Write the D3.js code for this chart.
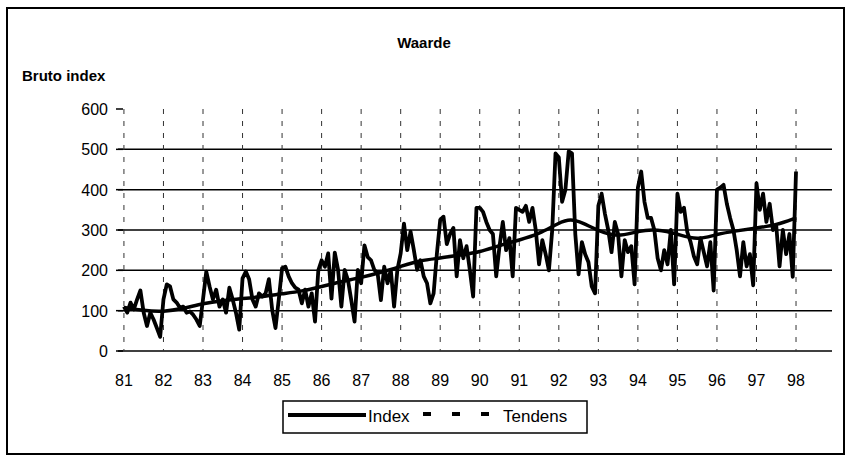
<!DOCTYPE html>
<html>
<head>
<meta charset="utf-8">
<script src="https://cdn.jsdelivr.net/npm/d3@7"></script>
<style>
  body { margin: 0; background: #fff; }
  text { font-family: "Liberation Sans", Arial, sans-serif; fill: #000; }
</style>
</head>
<body>
<svg id="chart" width="848" height="458"></svg>
<script>
// monthly index values, one array per year (Jan..Dec)
var index1981 = [110, 95, 120, 103, 128, 150, 95, 62, 95, 78, 57, 35];
var index1982 = [128, 165, 160, 128, 120, 107, 110, 95, 98, 90, 78, 62];
var index1983 = [128, 197, 160, 128, 152, 110, 128, 95, 157, 128, 95, 53];
var index1984 = [180, 197, 178, 128, 110, 143, 135, 143, 178, 102, 57, 128];
var index1985 = [205, 209, 185, 168, 157, 152, 118, 152, 110, 143, 73, 200];
var index1986 = [225, 209, 242, 130, 244, 201, 110, 201, 176, 126, 73, 201];
var index1987 = [168, 262, 233, 225, 201, 193, 126, 209, 168, 201, 110, 201];
var index1988 = [242, 316, 250, 296, 250, 201, 225, 185, 168, 118, 143, 242];
var index1989 = [325, 333, 265, 290, 305, 185, 275, 230, 260, 200, 135, 355];
var index1990 = [355, 345, 320, 300, 290, 185, 260, 320, 250, 280, 185, 355];
var index1991 = [350, 345, 360, 320, 355, 300, 215, 275, 240, 200, 300, 490];
var index1992 = [480, 370, 400, 495, 490, 290, 190, 270, 240, 220, 160, 143];
var index1993 = [360, 390, 340, 300, 245, 320, 290, 185, 275, 245, 260, 165];
var index1994 = [405, 445, 370, 330, 330, 300, 230, 200, 250, 215, 300, 165];
var index1995 = [390, 345, 355, 295, 270, 235, 215, 280, 245, 210, 270, 150];
var index1996 = [400, 405, 412, 365, 330, 300, 250, 185, 270, 210, 240, 163];
var index1997 = [416, 350, 390, 320, 365, 300, 310, 210, 300, 240, 290, 184];
var index1998 = [445];

// trend (Tendens), read at half-year points
var trendYears = [81, 81.5, 82, 82.5, 83, 83.5, 84, 84.5, 85, 85.5, 86, 86.5, 87, 87.5, 88, 88.5, 89, 89.5,
  90, 90.5, 91, 91.5, 92, 92.3, 92.6, 93, 93.5, 94, 94.5, 95, 95.5, 96, 96.5, 97, 97.5, 98];
var trendValues = [108, 100, 97, 105, 118, 125, 130, 135, 142, 148, 160, 172, 182, 195, 210, 225, 230, 238,
  245, 262, 275, 290, 318, 328, 318, 298, 282, 298, 302, 290, 274, 290, 298, 305, 312, 330];

var yearLabels = ['81', '82', '83', '84', '85', '86', '87', '88', '89', '90', '91', '92', '93', '94', '95', '96', '97', '98'];
var yTicks = [0, 100, 200, 300, 400, 500, 600];

var svg = d3.select('#chart');

// outer frame
svg.append('rect')
  .attr('x', 7).attr('y', 8)
  .attr('width', 837).attr('height', 446)
  .attr('fill', 'none').attr('stroke', '#000').attr('stroke-width', 2);

var x = d3.scaleLinear().domain([80.85, 98.91]).range([118, 832]);
var y = d3.scaleLinear().domain([0, 600]).range([351, 109]);

var indexYears = [index1981, index1982, index1983, index1984, index1985, index1986, index1987, index1988, index1989,
  index1990, index1991, index1992, index1993, index1994, index1995, index1996, index1997, index1998];
var indexData = [];
indexYears.forEach(function (arr, i) {
  arr.forEach(function (v, m) {
    indexData.push({ t: 81 + i + m / 12, v: v });
  });
});
var trendData = trendYears.map(function (t, i) { return { t: t, v: trendValues[i] }; });

// horizontal gridlines (0..500)
svg.append('g').selectAll('line')
  .data(yTicks.filter(function (d) { return d < 600; }))
  .enter().append('line')
  .attr('x1', 118).attr('x2', 832)
  .attr('y1', function (d) { return y(d); })
  .attr('y2', function (d) { return y(d); })
  .attr('stroke', '#000').attr('stroke-width', 1.5);

// vertical dashed gridlines at each year
svg.append('g').selectAll('line')
  .data(yearLabels)
  .enter().append('line')
  .attr('x1', function (d) { return x(+d); })
  .attr('x2', function (d) { return x(+d); })
  .attr('y1', y(600)).attr('y2', y(0))
  .attr('stroke', '#333').attr('stroke-width', 1)
  .attr('stroke-dasharray', '5,7');

// y tick marks and labels
var yAxis = svg.append('g');
yAxis.selectAll('line')
  .data(yTicks).enter().append('line')
  .attr('x1', 116).attr('x2', 123)
  .attr('y1', function (d) { return y(d); })
  .attr('y2', function (d) { return y(d); })
  .attr('stroke', '#000').attr('stroke-width', 1.5);
yAxis.selectAll('text')
  .data(yTicks).enter().append('text')
  .attr('x', 108)
  .attr('y', function (d) { return y(d) + 6; })
  .attr('text-anchor', 'end')
  .style('font-size', '16px')
  .text(function (d) { return d; });

// x labels
svg.append('g').selectAll('text')
  .data(yearLabels).enter().append('text')
  .attr('x', function (d) { return x(+d); })
  .attr('y', 386)
  .attr('text-anchor', 'middle')
  .style('font-size', '16px')
  .text(function (d) { return d; });

var line = d3.line()
  .x(function (d) { return x(d.t); })
  .y(function (d) { return y(d.v); });

svg.append('path')
  .datum(indexData)
  .attr('d', line)
  .attr('fill', 'none').attr('stroke', '#000')
  .attr('stroke-width', 3.8).attr('stroke-linejoin', 'round');

svg.append('path')
  .datum(trendData)
  .attr('d', line.curve(d3.curveBasis))
  .attr('fill', 'none').attr('stroke', '#000')
  .attr('stroke-width', 3.5);

// titles
svg.append('text')
  .attr('x', 424).attr('y', 48)
  .attr('text-anchor', 'middle')
  .style('font-size', '15px').style('font-weight', 'bold')
  .text('Waarde');
svg.append('text')
  .attr('x', 22).attr('y', 81)
  .style('font-size', '15px').style('font-weight', 'bold')
  .text('Bruto index');

// legend
var legend = svg.append('g');
legend.append('rect')
  .attr('x', 283).attr('y', 401).attr('width', 304).attr('height', 32)
  .attr('fill', 'none').attr('stroke', '#000').attr('stroke-width', 1.5);
legend.append('line')
  .attr('x1', 288).attr('x2', 366).attr('y1', 415).attr('y2', 415)
  .attr('stroke', '#000').attr('stroke-width', 4);
legend.append('text')
  .attr('x', 368).attr('y', 422)
  .style('font-size', '17px')
  .text('Index');
legend.append('line')
  .attr('x1', 423).attr('x2', 490).attr('y1', 414).attr('y2', 414)
  .attr('stroke', '#000').attr('stroke-width', 4)
  .attr('stroke-dasharray', '8,21');
legend.append('text')
  .attr('x', 503).attr('y', 422)
  .style('font-size', '17px')
  .text('Tendens');
</script>
</body>
</html>
